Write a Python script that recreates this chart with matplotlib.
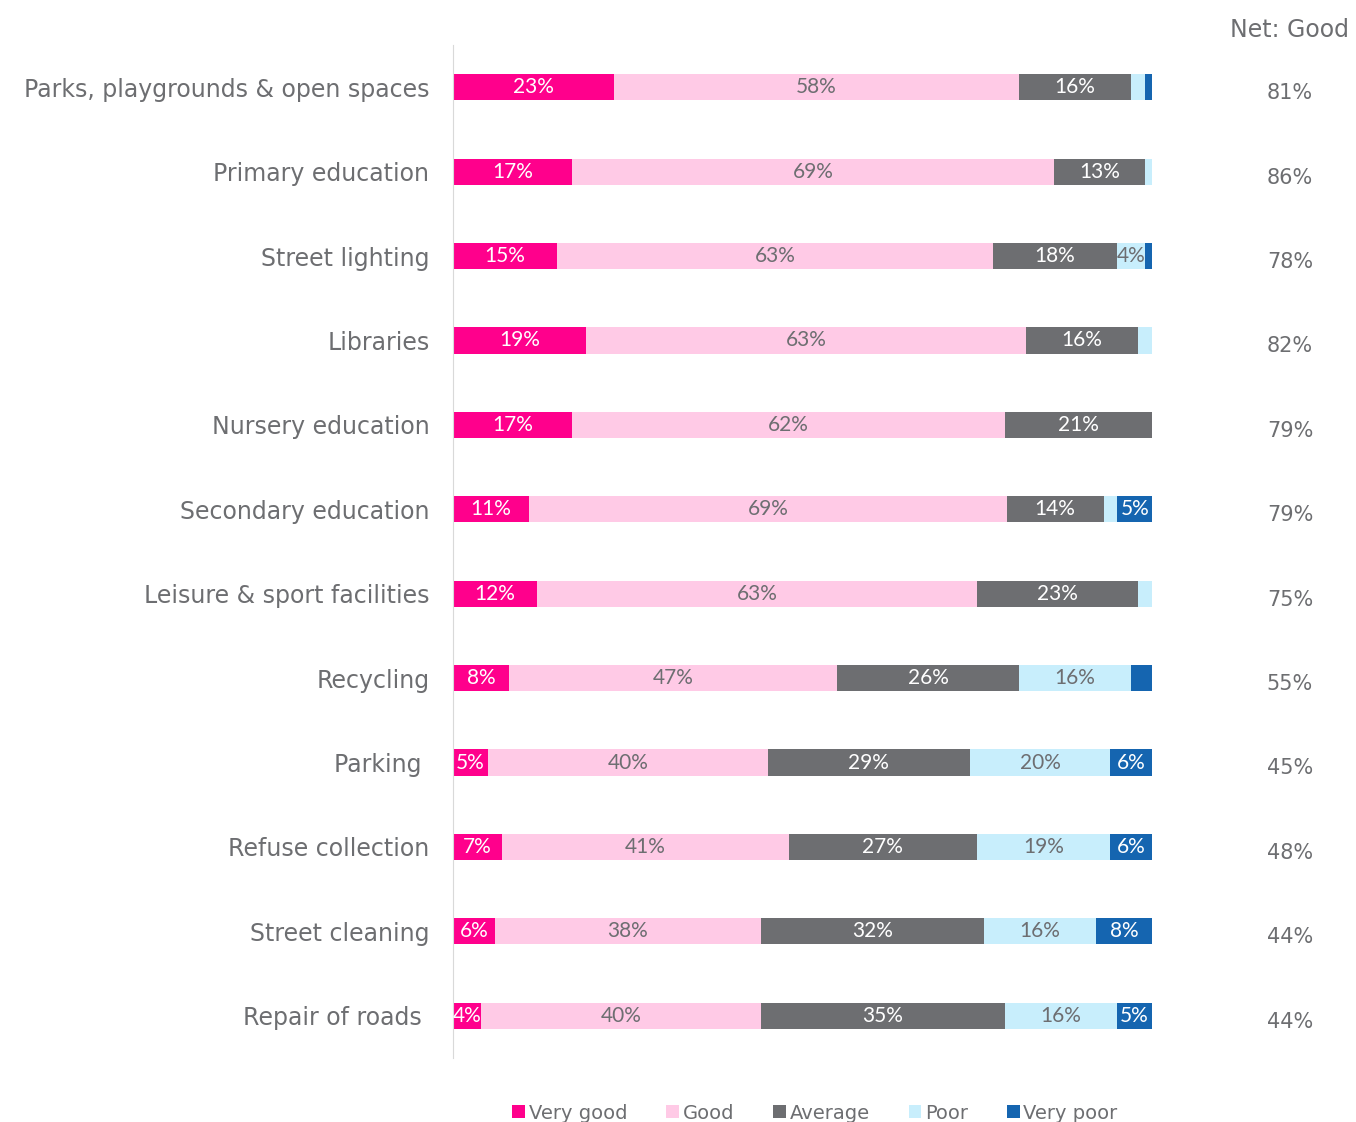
import numpy as np
import matplotlib.pyplot as plt
from matplotlib.patches import Patch
from matplotlib.transforms import blended_transform_factory

categories = ["Parks, playgrounds & open spaces", "Primary education", "Street lighting",
              "Libraries", "Nursery education", "Secondary education",
              "Leisure & sport facilities", "Recycling", "Parking ", "Refuse collection",
              "Street cleaning", "Repair of roads "]
series = ["Very good", "Good", "Average", "Poor", "Very poor"]
very_good = [23, 17, 15, 19, 17, 11, 12, 8, 5, 7, 6, 4]
good = [58, 69, 63, 63, 62, 69, 63, 47, 40, 41, 38, 40]
average = [16, 13, 18, 16, 21, 14, 23, 26, 29, 27, 32, 35]
poor = [2, 1, 4, 2, 0, 2, 2, 16, 20, 19, 16, 16]
very_poor = [1, 0, 1, 0, 0, 5, 0, 3, 6, 6, 8, 5]
net_good = [81, 86, 78, 82, 79, 79, 75, 55, 45, 48, 44, 44]

colors = ["#FF008C", "#FFCAE6", "#6D6E71", "#C8EEFC", "#1565B0"]
label_colors = ["white", "#6D6E71", "white", "#6D6E71", "white"]
grey = "#6D6E71"


def main():
    fig = plt.figure(figsize=(13.56, 11.22), dpi=100)
    ax = fig.add_axes([453 / 1356, 1 - 1058 / 1122, 699 / 1356, 1013 / 1122])

    data = np.array([very_good, good, average, poor, very_poor], dtype=float)
    totals = data.sum(axis=0)
    shares = data / totals
    y = np.arange(len(categories))
    left = np.zeros(len(categories))
    for i, name in enumerate(series):
        ax.barh(y, shares[i], left=left, height=0.31, color=colors[i], label=name)
        for j in range(len(categories)):
            if data[i, j] >= 4:
                ax.text(left[j] + shares[i, j] / 2, y[j], "{:.0f}%".format(data[i, j]),
                        ha="center", va="center", color=label_colors[i],
                        fontsize=15, family=["Lato", "DejaVu Sans"])
        left += shares[i]

    ax.set_xlim(0, 1)
    ax.set_ylim(len(categories) - 0.5, -0.5)
    ax.set_yticks(y)
    ax.set_yticklabels(categories, fontsize=17, color=grey)
    ax.tick_params(axis="y", length=0, pad=17)
    ax.set_xticks([])
    for s in ["top", "right", "bottom"]:
        ax.spines[s].set_visible(False)
    ax.spines["left"].set_color("#D9D9D9")

    # net good column
    fig.text(1290 / 1356, 1 - 30 / 1122, "Net: Good", ha="center", va="center",
             fontsize=17, color=grey)
    trans = blended_transform_factory(fig.transFigure, ax.transData)
    for j, v in enumerate(net_good):
        ax.text(1290 / 1356, y[j] + 0.07, "{}%".format(v), transform=trans,
                ha="center", va="center", fontsize=15, color=grey)

    handles = [Patch(facecolor=c, label=n) for c, n in zip(colors, series)]
    fig.legend(handles=handles, loc="center", bbox_to_anchor=(0.601, 0.008), ncol=5,
               frameon=False, fontsize=14, labelcolor=grey, handlelength=0.65,
               handleheight=0.65, handletextpad=0.2, columnspacing=2.0)

    fig.savefig("out.png", dpi=100)


if __name__ == '__main__':
    main()
